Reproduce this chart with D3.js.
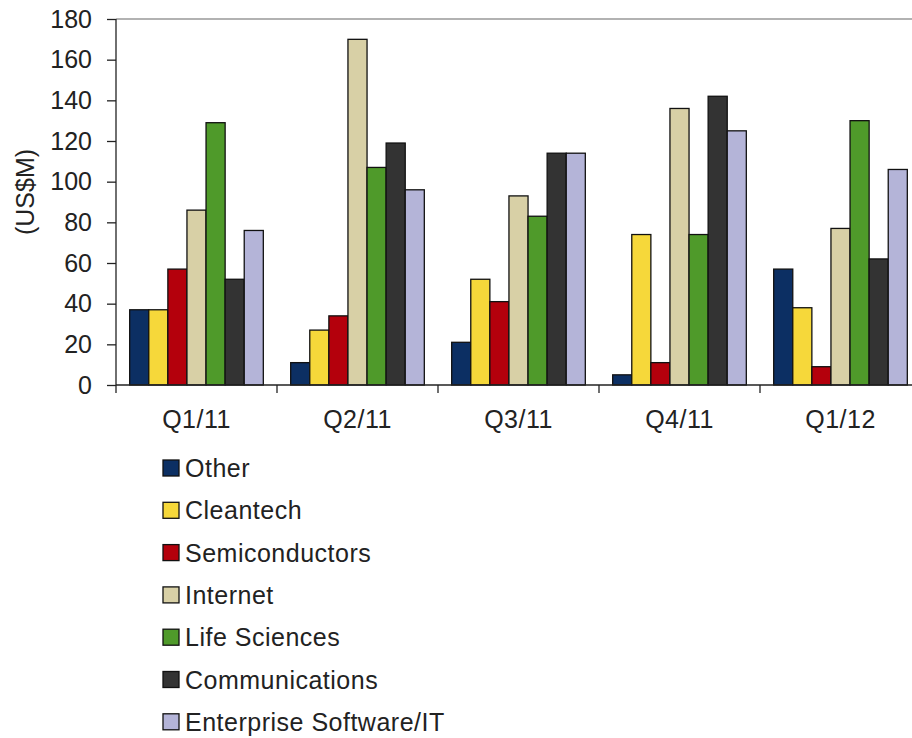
<!DOCTYPE html>
<html>
<head>
<meta charset="utf-8">
<script src="https://cdn.jsdelivr.net/npm/d3@7"></script>
<style>
  body { margin: 0; background: #fff; }
  text { font-family: "Liberation Sans", Arial, sans-serif; fill: #222; }
</style>
</head>
<body>
<script>
var w = 912;
var h = 738;

var margin = { top: 19, left: 116, bottom: 353, right: -9 };
var width = w - margin.left - margin.right;
var height = h - margin.top - margin.bottom;

// data
var quarters = ["Q1/11", "Q2/11", "Q3/11", "Q4/11", "Q1/12"];
var sectors = ["Other", "Cleantech", "Semiconductors", "Internet", "Life Sciences", "Communications", "Enterprise Software/IT"];
var colors = ["#0c2f63", "#f6d83a", "#b4000c", "#d8d0a6", "#4f9a2a", "#333333", "#b4b4d8"];
var other = [37, 11, 21, 5, 57];
var cleantech = [37, 27, 52, 74, 38];
var semis = [57, 34, 41, 11, 9];
var internet = [86, 170, 93, 136, 77];
var lifeSci = [129, 107, 83, 74, 130];
var comms = [52, 119, 114, 142, 62];
var enterprise = [76, 96, 114, 125, 106];
var yTicks = [0, 20, 40, 60, 80, 100, 120, 140, 160, 180];

var series = [other, cleantech, semis, internet, lifeSci, comms, enterprise];
var fontSize = "25px";

var svg = d3.select("body").append("svg")
    .attr("width", w)
    .attr("height", h);

var g = svg.append("g")
    .attr("transform", "translate(" + margin.left + "," + margin.top + ")");

var x = d3.scaleBand()
    .domain(quarters)
    .range([0, width])
    .paddingInner(0.17)
    .paddingOuter(0.085);

var x1 = d3.scaleBand()
    .domain(d3.range(sectors.length))
    .range([0, x.bandwidth()]);

var y = d3.scaleLinear()
    .domain([0, 180])
    .range([height, 0]);

// top grey line
g.append("line")
    .attr("x1", 0).attr("x2", w)
    .attr("y1", y(180)).attr("y2", y(180))
    .attr("stroke", "#999").attr("stroke-width", 1.5);

// bars
var groups = g.selectAll("g.quarter")
    .data(quarters)
    .enter().append("g")
    .attr("class", "quarter")
    .attr("transform", function(d){ return "translate(" + x(d) + ",0)"; });

groups.selectAll("rect")
    .data(function(d, qi){
        return series.map(function(s, si){ return { si: si, value: s[qi] }; });
    })
    .enter().append("rect")
    .attr("x", function(d){ return x1(d.si); })
    .attr("y", function(d){ return y(d.value); })
    .attr("width", x1.bandwidth())
    .attr("height", function(d){ return height - y(d.value); })
    .attr("fill", function(d){ return colors[d.si]; })
    .attr("stroke", "#111")
    .attr("stroke-width", 1.3);

// y axis
var yAxis = g.append("g")
    .call(d3.axisLeft(y).tickValues(yTicks).tickSize(9).tickPadding(15));
yAxis.selectAll("text")
    .style("font-size", fontSize)
    .attr("fill", "#222");
yAxis.selectAll("line, path").attr("stroke", "#222").attr("stroke-width", 1.3);
yAxis.select(".domain").attr("d", "M0," + height + "V0");

// x axis: line plus ticks at group boundaries
var boundaries = quarters.map(function(q, i){ return i * x.step(); });
g.append("line")
    .attr("x1", 0).attr("x2", w)
    .attr("y1", height).attr("y2", height)
    .attr("stroke", "#222").attr("stroke-width", 1.3);
g.selectAll("line.xtick")
    .data(boundaries)
    .enter().append("line")
    .attr("class", "xtick")
    .attr("x1", function(d){ return d; }).attr("x2", function(d){ return d; })
    .attr("y1", height).attr("y2", height + 8)
    .attr("stroke", "#222").attr("stroke-width", 1.3);
g.selectAll("text.xlab")
    .data(quarters)
    .enter().append("text")
    .attr("class", "xlab")
    .attr("x", function(d){ return x(d) + x.bandwidth() / 2; })
    .attr("y", height + 43)
    .attr("text-anchor", "middle")
    .style("font-size", fontSize)
    .style("letter-spacing", "0.5px")
    .text(function(d){ return d; });

// y label
svg.append("text")
    .attr("transform", "translate(34,192) rotate(-90)")
    .attr("text-anchor", "middle")
    .style("font-size", fontSize)
    .text("(US$M)");

// legend
var legend = svg.selectAll("g.legend")
    .data(sectors)
    .enter().append("g")
    .attr("class", "legend")
    .attr("transform", function(d, i){ return "translate(163," + (468 + i * 42.3) + ")"; });

legend.append("rect")
    .attr("x", 0).attr("y", -8)
    .attr("width", 16).attr("height", 16)
    .attr("fill", function(d, i){ return colors[i]; })
    .attr("stroke", "#111")
    .attr("stroke-width", 1.3);

legend.append("text")
    .attr("x", 22)
    .attr("y", 9)
    .style("font-size", fontSize)
    .style("letter-spacing", "0.5px")
    .text(function(d){ return d; });
</script>
</body>
</html>
